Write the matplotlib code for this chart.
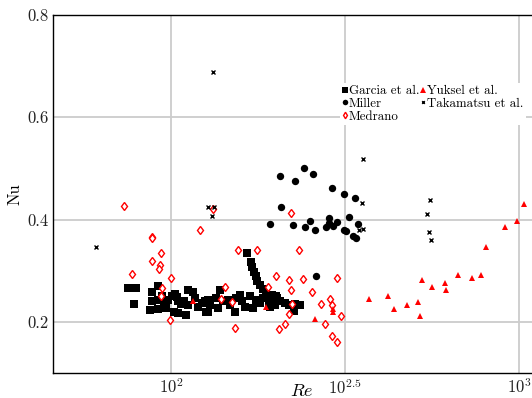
import matplotlib
matplotlib.use("Agg")
import matplotlib.pyplot as plt

plt.rcParams['font.family'] = ['cmr10', 'DejaVu Serif']
plt.rcParams['mathtext.fontset'] = 'cm'
plt.rcParams['axes.formatter.use_mathtext'] = True

# Garcia et al. (squares)
garcia_re = [75.4, 79.5, 78.4, 91.6, 88.0, 86.9, 88.0, 91.6, 91.9, 94.4,
             95.7, 96.9, 97.8, 100.5, 102.7, 103.8, 102.2, 104.5, 104.9, 106.8,
             109.2, 110.4, 112.1, 115.9, 112.1, 117.2, 119.3, 122.5, 125.2, 126.3,
             127.7, 129.2, 127.7, 134.9, 136.5, 138.0, 141.1, 145.8, 147.5, 152.4,
             154.0, 157.6, 160.3, 162.9, 168.4, 172.1, 175.9, 179.9, 183.9, 187.9,
             194.2, 198.6, 200.7, 205.3, 192.1, 164.8, 169.4, 171.3, 172.9, 175.2,
             177.0, 180.6, 183.9, 187.2, 195.1, 201.6, 206.1, 213.0, 217.9, 227.6,
             235.3, 225.3, 190.9, 197.3]
garcia_nu = [0.267, 0.267, 0.235, 0.271, 0.259, 0.224, 0.240, 0.243, 0.226, 0.250,
             0.240, 0.227, 0.243, 0.250, 0.255, 0.248, 0.220, 0.217, 0.240, 0.235,
             0.240, 0.214, 0.263, 0.259, 0.233, 0.246, 0.230, 0.237, 0.240, 0.220,
             0.243, 0.233, 0.220, 0.246, 0.227, 0.263, 0.240, 0.243, 0.233, 0.220,
             0.246, 0.253, 0.240, 0.230, 0.250, 0.227, 0.243, 0.237, 0.246, 0.253,
             0.243, 0.233, 0.250, 0.240, 0.230, 0.334, 0.318, 0.308, 0.298, 0.289,
             0.280, 0.272, 0.265, 0.256, 0.253, 0.246, 0.240, 0.237, 0.233, 0.235,
             0.233, 0.222, 0.237, 0.240]

# Miller (circles)
miller_re = [205.3, 227.2, 240.6, 255.4, 289.5, 314.1, 336.4, 207.5, 192.5, 223.8,
             242.2, 250.8, 258.8, 278.8, 285.0, 285.0, 292.6, 300.5, 324.1, 314.1,
             318.3, 332.9, 340.2, 344.1, 260.5]
miller_nu = [0.486, 0.476, 0.500, 0.489, 0.461, 0.450, 0.442, 0.425, 0.392, 0.390,
             0.386, 0.398, 0.380, 0.386, 0.403, 0.393, 0.388, 0.396, 0.405, 0.380,
             0.377, 0.368, 0.364, 0.391, 0.290]

# Medrano (open diamonds)
medrano_re = [73.4, 88.0, 88.0, 93.4, 88.2, 93.0, 92.4, 77.3, 99.8, 94.0,
              93.3, 99.5, 121.4, 131.8, 155.8, 177.0, 142.5, 139.2, 150.0, 153.0,
              190.4, 221.7, 233.3, 200.7, 218.1, 239.5, 299.3, 221.0, 254.7, 285.8,
              269.8, 290.7, 222.3, 218.8, 307.9, 212.2, 203.9, 277.5, 289.2, 299.5]
medrano_nu = [0.427, 0.366, 0.363, 0.334, 0.319, 0.311, 0.303, 0.293, 0.285, 0.266,
              0.251, 0.203, 0.379, 0.420, 0.341, 0.341, 0.269, 0.244, 0.238, 0.188,
              0.269, 0.413, 0.340, 0.290, 0.281, 0.283, 0.286, 0.263, 0.258, 0.244,
              0.234, 0.232, 0.235, 0.216, 0.211, 0.196, 0.187, 0.195, 0.172, 0.160]

# Yuksel et al. (triangles)
yuksel_re = [369.9, 418.4, 437.3, 475.7, 510.3, 519.4, 524.0, 559.8, 611.7, 614.0,
             667.8, 729.4, 776.2, 800.3, 911.6, 985.0, 1033.7, 115.9, 187.0, 258.8,
             292.6, 292.6]
yuksel_nu = [0.245, 0.251, 0.225, 0.232, 0.239, 0.212, 0.282, 0.268, 0.276, 0.262,
             0.291, 0.285, 0.291, 0.347, 0.386, 0.398, 0.431, 0.241, 0.229, 0.205,
             0.225, 0.219]

# Takamatsu et al. (crosses)
takamatsu_re = [61, 132, 128, 133, 131, 356, 354, 347, 356, 554, 545, 551, 559]
takamatsu_nu = [0.346, 0.689, 0.425, 0.425, 0.407, 0.519, 0.433, 0.379, 0.381,
                0.438, 0.411, 0.375, 0.361]

fig = plt.figure(figsize=(5.32, 3.98), dpi=100)
ax = fig.add_axes([0.0996, 0.0628, 0.9004, 0.8995])

ax.plot(garcia_re, garcia_nu, 's', ms=5.2, color='black', mew=0, label='Garcia et al.')
ax.plot(miller_re, miller_nu, 'o', ms=5.3, color='black', mew=0, label='Miller')
ax.plot(medrano_re, medrano_nu, 'd', ms=4.4, mfc='white', mec='red', mew=1.0,
        label='Medrano')
ax.plot(yuksel_re, yuksel_nu, '^', ms=5.0, color='red', mew=0, label='Yuksel et al.')
ax.plot(takamatsu_re, takamatsu_nu, 'x', ms=2.6, color='black', mew=1.0,
        label='Takamatsu et al.')

ax.set_xscale('log')
ax.set_xlim(10 ** 1.661, 10 ** 3.0365)
ax.set_ylim(0.1, 0.8)
ax.set_xticks([100, 10 ** 2.5, 1000])
ax.set_xticklabels(['$10^{2}$', '$10^{2.5}$', '$10^{3}$'])
ax.minorticks_off()
ax.set_yticks([0.2, 0.4, 0.6, 0.8])
ax.set_yticklabels(['0.2', '0.4', '0.6', '0.8'])
ax.tick_params(length=0, labelsize=12, pad=3, colors='#222222')
ax.grid(True, color='#cccccc', lw=1.3)
ax.set_axisbelow(True)
ax.spines['right'].set_visible(False)
for s in ['left', 'top', 'bottom']:
    ax.spines[s].set_linewidth(1.0)

ax.set_xlabel('$Re$', fontsize=13, labelpad=0, va='center')
ax.xaxis.set_label_coords(0.52, -0.05)
ax.set_ylabel('Nu', fontsize=12)
ax.yaxis.set_label_coords(-0.063, 0.5)

leg = ax.legend(loc='upper left', bbox_to_anchor=(0.599, 0.81), ncol=2,
                fontsize=9.3, frameon=True, framealpha=1, edgecolor='none',
                facecolor='white', fancybox=False, borderpad=0.15,
                handlelength=0.5, handletextpad=0.05, labelspacing=0.05,
                columnspacing=0.05, borderaxespad=0, markerscale=0.75)

fig.savefig('out.png', dpi=100)
